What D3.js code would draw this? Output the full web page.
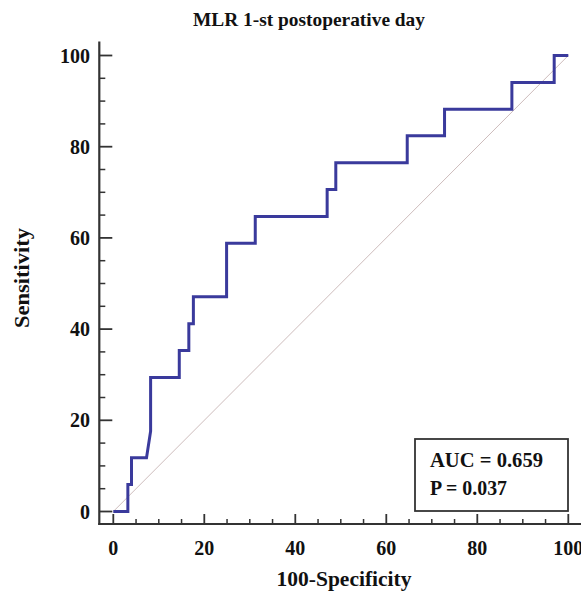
<!DOCTYPE html>
<html>
<head>
<meta charset="utf-8">
<script src="https://d3js.org/d3.v7.min.js"></script>
<style>
  html, body { margin: 0; padding: 0; background: #fff; }
  svg { display: block; }
  text { font-family: 'Liberation Serif', 'DejaVu Serif', serif; font-weight: bold; fill: #111; }
</style>
</head>
<body>
<svg id="chart" width="581" height="597"></svg>
<script>
// ROC curve points (100-Specificity, Sensitivity)
const fpr = [0, 3.2, 3.2, 4.0, 4.0, 7.3, 8.2, 8.2, 14.5, 14.5, 16.6, 16.6, 17.6, 17.6, 24.9, 24.9, 31.2, 31.2, 47.0, 47.0, 48.9, 48.9, 64.6, 64.6, 72.8, 72.8, 87.6, 87.6, 96.9, 96.9, 100];
const tpr = [0, 0, 5.9, 5.9, 11.8, 11.8, 17.6, 29.4, 29.4, 35.3, 35.3, 41.2, 41.2, 47.1, 47.1, 58.8, 58.8, 64.7, 64.7, 70.6, 70.6, 76.5, 76.5, 82.4, 82.4, 88.2, 88.2, 94.1, 94.1, 100, 100];
const majorTicks = [0, 20, 40, 60, 80, 100];
const minorTicks = d3.range(0, 101, 5).filter(v => v % 20 !== 0);
const statLines = ['AUC = 0.659', 'P = 0.037'];

const svg = d3.select('#chart');
const x = d3.scaleLinear().domain([0, 100]).range([113.3, 568.3]);
const y = d3.scaleLinear().domain([0, 100]).range([511.5, 55.5]);
const axisColor = '#333';

// title
svg.append('text').attr('x', 309).attr('y', 26).attr('text-anchor', 'middle')
  .attr('font-size', 19).attr('textLength', 232).attr('lengthAdjust', 'spacingAndGlyphs')
  .text('MLR 1-st postoperative day');

// diagonal reference
svg.append('line')
  .attr('x1', x(0)).attr('y1', y(0)).attr('x2', x(100)).attr('y2', y(100))
  .attr('stroke', '#cdbcbc').attr('stroke-width', 1);

// axes lines
const axisX = 524, axisY = 99.3;
svg.append('line').attr('x1', axisY).attr('x2', axisY).attr('y1', 41.5).attr('y2', axisX + 1)
  .attr('stroke', axisColor).attr('stroke-width', 2.2);
svg.append('line').attr('x1', axisY - 1).attr('x2', 581).attr('y1', axisX).attr('y2', axisX)
  .attr('stroke', axisColor).attr('stroke-width', 2.2);

// y ticks (inward)
svg.append('g').selectAll('line.maj').data(majorTicks).join('line')
  .attr('x1', axisY).attr('x2', axisY + 13).attr('y1', d => y(d)).attr('y2', d => y(d))
  .attr('stroke', axisColor).attr('stroke-width', 1.8);
svg.append('g').selectAll('line.min').data(minorTicks).join('line')
  .attr('x1', axisY).attr('x2', axisY + 6).attr('y1', d => y(d)).attr('y2', d => y(d))
  .attr('stroke', axisColor).attr('stroke-width', 1.5);
svg.append('g').selectAll('text').data(majorTicks).join('text')
  .attr('x', 90).attr('y', d => y(d)).attr('dy', '0.35em').attr('text-anchor', 'end')
  .attr('font-size', 20).text(d => d);

// x ticks (upward)
svg.append('g').selectAll('line.maj').data(majorTicks).join('line')
  .attr('x1', d => x(d)).attr('x2', d => x(d)).attr('y1', axisX).attr('y2', axisX - 10)
  .attr('stroke', axisColor).attr('stroke-width', 1.8);
svg.append('g').selectAll('line.min').data(minorTicks).join('line')
  .attr('x1', d => x(d)).attr('x2', d => x(d)).attr('y1', axisX).attr('y2', axisX - 5)
  .attr('stroke', axisColor).attr('stroke-width', 1.5);
svg.append('g').selectAll('text').data(majorTicks).join('text')
  .attr('x', d => x(d)).attr('y', 555).attr('text-anchor', 'middle')
  .attr('font-size', 20).text(d => d);

// axis titles
svg.append('text').attr('x', 344).attr('y', 586).attr('text-anchor', 'middle')
  .attr('font-size', 20).attr('textLength', 135).attr('lengthAdjust', 'spacingAndGlyphs')
  .text('100-Specificity');
svg.append('text').attr('transform', 'translate(29,278) rotate(-90)').attr('text-anchor', 'middle')
  .attr('font-size', 20).attr('textLength', 100).attr('lengthAdjust', 'spacingAndGlyphs')
  .text('Sensitivity');

// ROC curve
const pts = fpr.map((d, i) => [d, tpr[i]]);
svg.append('path').datum(pts)
  .attr('d', d3.line().x(d => x(d[0])).y(d => y(d[1])))
  .attr('fill', 'none').attr('stroke', '#3a3a9c').attr('stroke-width', 3)
  .attr('stroke-linejoin', 'miter');

// stats box
svg.append('rect').attr('x', 415).attr('y', 439).attr('width', 153).attr('height', 72)
  .attr('fill', '#fff').attr('stroke', axisColor).attr('stroke-width', 1.8);
svg.append('g').selectAll('text').data(statLines).join('text')
  .attr('x', 430).attr('y', (d, i) => 467 + i * 28)
  .attr('font-size', 20).attr('textLength', (d, i) => i === 0 ? 113 : 77)
  .attr('lengthAdjust', 'spacingAndGlyphs')
  .text(d => d);
</script>
</body>
</html>
